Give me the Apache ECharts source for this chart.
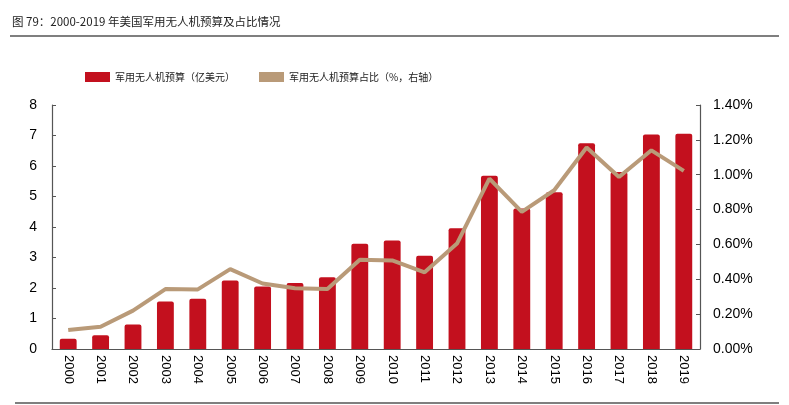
<!DOCTYPE html>
<html lang="zh">
<head>
    <meta charset="UTF-8">
    <title>美国军用无人机预算</title>
    <script src="https://cdn.jsdelivr.net/npm/echarts@6/dist/echarts.min.js"></script>
    <style>
        html, body {
            margin: 0;
            padding: 0;
            background: #fff;
        }
        #chart {
            width: 789px;
            height: 405px;
        }
    </style>
</head>
<body>
<div id="chart"></div>
<script>
    var years = ['2000', '2001', '2002', '2003', '2004', '2005', '2006', '2007', '2008', '2009',
        '2010', '2011', '2012', '2013', '2014', '2015', '2016', '2017', '2018', '2019'];
    // 军用无人机预算（亿美元）
    var budget = [0.34, 0.45, 0.80, 1.56, 1.65, 2.25, 2.05, 2.16, 2.35, 3.45,
        3.56, 3.06, 3.96, 5.68, 4.61, 5.14, 6.75, 5.80, 7.03, 7.06];
    // 占比（%）
    var share = [0.109, 0.128, 0.22, 0.344, 0.342, 0.458, 0.376, 0.348, 0.344, 0.512,
        0.508, 0.44, 0.605, 0.978, 0.787, 0.911, 1.156, 0.987, 1.14, 1.022];

    var titleText = '图 79：2000-2019 年美国军用无人机预算及占比情况';
    var axisColor = '#555';
    var cjk = '"Noto Sans CJK SC", sans-serif';
    var latin = '"Liberation Sans", Arial, sans-serif';

    var myChart = echarts.init(document.getElementById('chart'));
    var option = {
        backgroundColor: '#fff',
        animation: false,
        title: {
            text: titleText,
            left: 7,
            top: 11,
            textStyle: {
                fontFamily: cjk,
                fontSize: 11.5,
                fontWeight: 'normal',
                color: '#222'
            }
        },
        graphic: [
            {type: 'line', shape: {x1: 10, y1: 36, x2: 779, y2: 36}, style: {stroke: '#000', lineWidth: 1.2}},
            {type: 'line', shape: {x1: 15, y1: 403, x2: 779, y2: 403}, style: {stroke: '#000', lineWidth: 1.2}}
        ],
        legend: {
            top: 67,
            left: 80,
            itemGap: 24,
            itemWidth: 25,
            itemHeight: 10,
            textStyle: {
                fontFamily: cjk,
                fontSize: 10,
                color: '#222'
            },
            data: [
                {name: '军用无人机预算（亿美元）', icon: 'rect'},
                {name: '军用无人机预算占比（%，右轴）', icon: 'rect', itemStyle: {color: '#b99a78'}}
            ]
        },
        grid: {
            left: 52,
            right: 89,
            top: 105,
            bottom: 56
        },
        xAxis: {
            type: 'category',
            data: years,
            axisLine: {lineStyle: {color: axisColor, width: 1.2}},
            axisTick: {inside: true, length: 4, alignWithLabel: false, lineStyle: {color: axisColor}},
            axisLabel: {
                rotate: -90,
                margin: 6,
                color: '#000',
                fontFamily: latin,
                fontSize: 13
            }
        },
        yAxis: [
            {
                type: 'value',
                min: 0,
                max: 8,
                interval: 1,
                splitLine: {show: false},
                axisLine: {show: true, lineStyle: {color: axisColor, width: 1.2}},
                axisTick: {show: true, inside: true, length: 4, lineStyle: {color: axisColor}},
                axisLabel: {
                    margin: 15,
                    color: '#000',
                    fontFamily: latin,
                    fontSize: 14
                }
            },
            {
                type: 'value',
                min: 0,
                max: 1.4,
                interval: 0.2,
                splitLine: {show: false},
                axisLine: {show: true, lineStyle: {color: axisColor, width: 1.2}},
                axisTick: {show: true, inside: true, length: 4, lineStyle: {color: axisColor}},
                axisLabel: {
                    margin: 13,
                    color: '#000',
                    fontFamily: latin,
                    fontSize: 14,
                    formatter: function (v) {
                        return v.toFixed(2) + '%';
                    }
                }
            }
        ],
        series: [
            {
                name: '军用无人机预算（亿美元）',
                type: 'bar',
                data: budget,
                barWidth: '52%',
                itemStyle: {color: '#c3101e', borderRadius: [2, 2, 0, 0]}
            },
            {
                name: '军用无人机预算占比（%，右轴）',
                type: 'line',
                yAxisIndex: 1,
                data: share,
                symbol: 'none',
                lineStyle: {color: '#b99a78', width: 4},
                itemStyle: {color: '#b99a78'}
            }
        ]
    };
    myChart.setOption(option);
</script>
</body>
</html>
